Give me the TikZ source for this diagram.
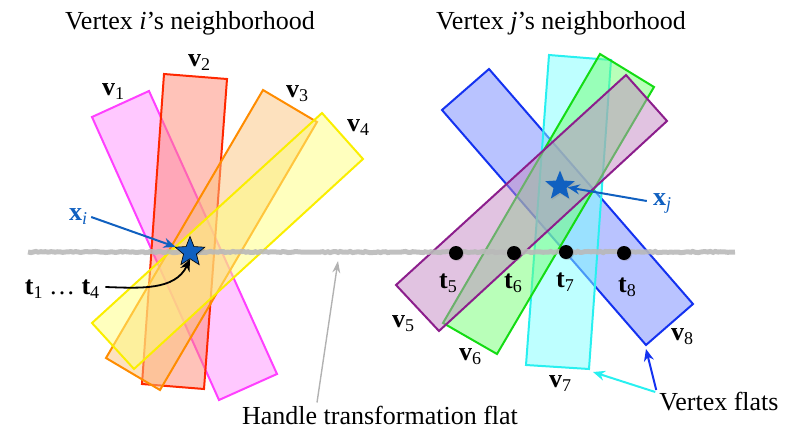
\documentclass[tikz,border=0pt]{standalone}
\usepackage{fontspec}
\setmainfont{Liberation Serif}
\usetikzlibrary{arrows.meta,shapes.geometric,shadows,decorations.pathmorphing}
\definecolor{xblue}{RGB}{16,96,192}
\definecolor{vaB}{RGB}{255,64,255}\definecolor{vaF}{RGB}{255,145,255}
\definecolor{vbB}{RGB}{255,40,0}\definecolor{vbF}{RGB}{255,135,115}
\definecolor{vcB}{RGB}{255,140,0}\definecolor{vcF}{RGB}{251,195,125}
\definecolor{vdB}{RGB}{250,238,0}\definecolor{vdF}{RGB}{255,255,125}
\definecolor{veB}{RGB}{140,30,140}\definecolor{veF}{RGB}{195,135,195}
\definecolor{vfB}{RGB}{20,220,20}\definecolor{vfF}{RGB}{115,255,115}
\definecolor{vgB}{RGB}{40,240,240}\definecolor{vgF}{RGB}{125,255,255}
\definecolor{vhB}{RGB}{20,50,240}\definecolor{vhF}{RGB}{115,135,255}
\newcommand\sbx[1]{\raisebox{-4pt}{\fontsize{18}{18}\selectfont #1}}
\newcommand\bvl[1]{\textbf{v}\sbx{#1}}
\newcommand\btl[1]{\textbf{t}\sbx{#1}}
\tikzset{
  flat/.style={line width=2pt, fill opacity=0.5, line join=miter},
  lbl/.style={inner sep=0pt, font=\fontsize{26}{30}\selectfont},
  ttl/.style={inner sep=0pt, font=\fontsize{26}{30}\selectfont},
  tdot/.style={circle, fill=black, minimum size=14pt, inner sep=0pt,
     drop shadow={opacity=0.3, shadow xshift=1pt, shadow yshift=-1pt}},
  pt/.style={-{Stealth[length=12pt,width=10pt]}, line width=2pt},
}
\begin{document}
\begin{tikzpicture}[x=1pt,y=-1pt]
\useasboundingbox (0,0) rectangle (787,434);
% left flats
\draw[flat, draw=vaB, fill=vaF] (92,117) -- (149,91) -- (277,374) -- (219,400) -- cycle;
\draw[flat, draw=vbB, fill=vbF] (164,74) -- (227,79) -- (204,389) -- (142,384) -- cycle;
\draw[flat, draw=vcB, fill=vcF] (263,90) -- (317,122) -- (160,390) -- (106,358) -- cycle;
\draw[flat, draw=vdB, fill=vdF] (322,113) -- (363,159) -- (134,369) -- (92,323) -- cycle;
% right flats
\draw[flat, draw=vhB, fill=vhF] (442,110) -- (489,69) -- (693,304) -- (646,345) -- cycle;
\draw[flat, draw=vgB, fill=vgF] (549,55) -- (611,60) -- (589,369) -- (526,365) -- cycle;
\draw[flat, draw=vfB, fill=vfF] (600,54) -- (654,87) -- (497,354) -- (443,323) -- cycle;
\draw[flat, draw=veB, fill=veF] (626,75) -- (667,121) -- (439,331) -- (396,285) -- cycle;
\coordinate (c7) at (593,372);
\coordinate (c8) at (646,349);
% handle transformation flat
\coordinate (hl) at (28,252);
\coordinate (hr) at (735,252);
\coordinate (hp) at (338,261);
\draw[gray!55, opacity=0.9, line width=5pt, decorate,
      decoration={random steps, segment length=2.5pt, amplitude=0.6pt}] (hl) -- (hr);
% titles
\node[ttl] (ti) at (190,23) {Vertex \textit{i}’s neighborhood};
\node[ttl] (tj) at (561,23) {Vertex \textit{j}’s neighborhood};
% v labels
\node[lbl] (l1) at (113,92) {\bvl{1}};
\node[lbl] (l2) at (199,63) {\bvl{2}};
\node[lbl] (l3) at (297,94) {\bvl{3}};
\node[lbl] (l4) at (358,128) {\bvl{4}};
\node[lbl] (l5) at (403,324) {\bvl{5}};
\node[lbl] (l6) at (470,357) {\bvl{6}};
\node[lbl] (l7) at (560,384) {\bvl{7}};
\node[lbl] (l8) at (682,337) {\bvl{8}};
% stars
\node[star, star points=5, star point ratio=2.3, minimum size=31pt, inner sep=0pt,
      fill=xblue, draw=black, line width=0.6pt,
      drop shadow={opacity=0.35, shadow xshift=1pt, shadow yshift=-1.5pt}] (si) at (190,252) {};
\node[star, star points=5, star point ratio=2.3, minimum size=31pt, inner sep=0pt,
      fill=xblue, drop shadow={opacity=0.25, shadow xshift=1pt, shadow yshift=-1.5pt}] (sj) at (560,186) {};
% dots
\node[tdot] (d5) at (456,253) {};
\node[tdot] (d6) at (514,253) {};
\node[tdot] (d7) at (566,252) {};
\node[tdot] (d8) at (624,253) {};
\node[lbl] (t5) at (448,283) {\btl{5}};
\node[lbl] (t6) at (513,283) {\btl{6}};
\node[lbl] (t7) at (565,282) {\btl{7}};
\node[lbl] (t8) at (627,287) {\btl{8}};
% x labels
\node[lbl, text=xblue] (xi) at (78,217) {\textbf{x}\sbx{\textit{i}}};
\node[lbl, text=xblue] (xj) at (662,203) {\textbf{x}\sbx{\textit{j}}};
\draw[pt, xblue] ([xshift=4pt]xi.east) -- (si);
\draw[pt, xblue] ([xshift=-6pt,yshift=2pt]xj.west) -- (sj);
% t1...t4
\node[lbl] (t14) at (62,289) {\btl{1} … \btl{4}};
\draw[pt, black, line width=1.8pt] ([xshift=6pt,yshift=2pt]t14.east) to[out=-2, in=-115] (si.south);
% handle label
\node[lbl] (hlab) at (380,415) {Handle transformation flat};
\draw[-{Stealth[length=12pt,width=8pt]}, line width=1.4pt, gray!60] ([xshift=-63pt,yshift=3pt]hlab.north) -- (hp);
% vertex flats
\node[lbl] (vf) at (719,402) {Vertex flats};
\draw[pt, vgB] ([xshift=-4pt,yshift=10pt]vf.west) -- (c7);
\draw[pt, vhB] ([xshift=-3pt,yshift=12pt]vf.west) -- (c8);
\end{tikzpicture}
\end{document}
